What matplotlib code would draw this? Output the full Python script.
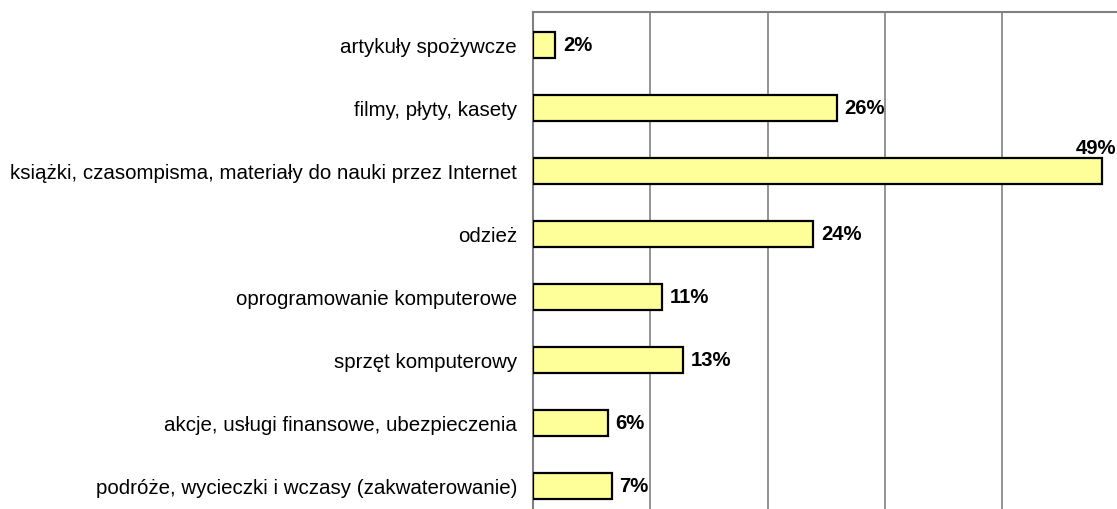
import matplotlib
matplotlib.use("Agg")
import matplotlib.pyplot as plt

categories = [
    "artykuły spożywcze",
    "filmy, płyty, kasety",
    "książki, czasompisma, materiały do nauki przez Internet",
    "odzież",
    "oprogramowanie komputerowe",
    "sprzęt komputerowy",
    "akcje, usługi finansowe, ubezpieczenia",
    "podróże, wycieczki i wczasy (zakwaterowanie)",
]
values = [1.9, 25.9, 48.5, 23.9, 11.0, 12.8, 6.4, 6.7]
labels = ["2%", "26%", "49%", "24%", "11%", "13%", "6%", "7%"]

plt.rcParams['font.family'] = ['Liberation Sans', 'DejaVu Sans']

fig = plt.figure(figsize=(11.17, 5.10), dpi=100)
ax = fig.add_axes([533/1117, -9.5/510, (1119.8-533)/1117, (519.5-13)/510])

y = list(range(len(categories)))
ax.barh(y, values, height=0.42, color="#FFFF99", edgecolor="black", linewidth=1.6, zorder=3)

for i, (v, lab) in enumerate(zip(values, labels)):
    if v > 45:
        ax.annotate(lab, xy=(v, i), xytext=(10, 12.5), textcoords="offset points",
                    ha="right", va="baseline", fontsize=14.6, fontweight="bold")
    else:
        ax.annotate(lab, xy=(v, i), xytext=(5.5, 0), textcoords="offset points",
                    ha="left", va="center", fontsize=14.6, fontweight="bold")

ax.set_xlim(0, 50)
ax.set_ylim(len(categories) - 0.48, -0.52)
ax.set_yticks(y)
ax.set_yticklabels(categories, fontsize=14.8)
ax.set_xticks([0, 10, 20, 30, 40, 50])
ax.tick_params(axis="x", bottom=False, labelbottom=False)
ax.tick_params(axis="y", length=0, pad=11.5)
ax.xaxis.grid(True, color="#808080", linewidth=1.2, zorder=0)
for s in ["left", "top"]:
    ax.spines[s].set_color("#808080")
    ax.spines[s].set_linewidth(1.5)
for s in ["right", "bottom"]:
    ax.spines[s].set_visible(False)

fig.savefig("out.png", dpi=100)
